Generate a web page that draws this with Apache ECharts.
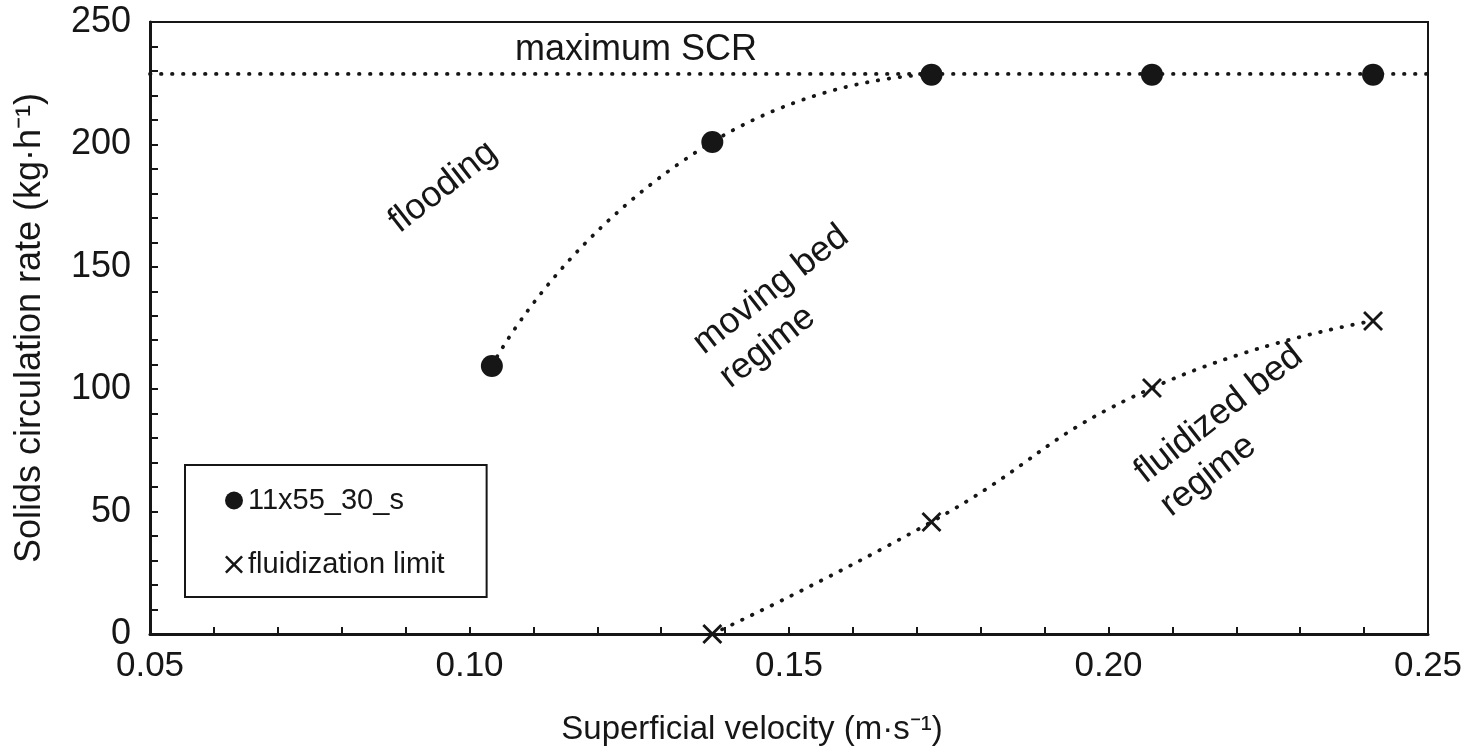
<!DOCTYPE html>
<html>
<head>
<meta charset="utf-8">
<script src="https://cdn.jsdelivr.net/npm/echarts@6/dist/echarts.min.js"></script>
<style>
    html, body { margin: 0; padding: 0; background: #fff; }
    #chart { width: 1468px; height: 754px; }
</style>
</head>
<body>
<div id="chart"></div>
<script>
// data
var scrVelocity = [0.1035, 0.138, 0.1723, 0.2068, 0.2414];
var scrRate = [109.5, 201, 228.5, 228.5, 228.5];
var fluidVelocity = [0.138, 0.1723, 0.2068, 0.2414];
var fluidRate = [0, 45.8, 100.5, 127.9];
var maxScrVelocity = [0.05, 0.25];
var maxScrRate = [228.8, 228.8];
var xTicks = [0.05, 0.10, 0.15, 0.20, 0.25];
var yTicks = [0, 50, 100, 150, 200, 250];

var FONT = '"Liberation Sans", Arial, Helvetica, sans-serif';
var INK = '#161616';
// X made of a filled polygon so it also shows in the legend
var CROSS = 'path://M1,0L5,4L9,0L10,1L6,5L10,9L9,10L5,6L1,10L0,9L4,5L0,1Z';

function pairs(xs, ys) {
    var out = [];
    for (var i = 0; i < xs.length; i++) {
        out.push([xs[i], ys[i]]);
    }
    return out;
}

var dotted = {
    color: INK,
    width: 3.8,
    type: [0.5, 10.5],
    cap: 'round'
};

var chart = echarts.init(document.getElementById('chart'));
var option = {
    backgroundColor: '#fff',
    animation: false,
    grid: {
        left: 150,
        right: 40,
        top: 22,
        bottom: 120,
        show: true,
        borderColor: INK,
        borderWidth: 2,
        backgroundColor: 'transparent'
    },
    legend: {
        left: 185,
        top: 465,
        orient: 'vertical',
        itemWidth: 18,
        itemHeight: 18,
        itemGap: 35,
        padding: [21, 42, 18, 40],
        borderColor: INK,
        borderWidth: 2,
        textStyle: { fontFamily: FONT, fontSize: 29, color: INK },
        data: [
            { name: '11x55_30_s', icon: 'circle' },
            { name: 'fluidization limit', icon: CROSS }
        ]
    },
    xAxis: {
        type: 'value',
        min: xTicks[0],
        max: xTicks[xTicks.length - 1],
        interval: 0.05,
        name: 'Superficial velocity (m·s⁻¹)',
        nameLocation: 'middle',
        nameGap: 79,
        nameTextStyle: { fontFamily: FONT, fontSize: 33, color: INK, padding: [0, 74, 0, 0] },
        axisLine: { lineStyle: { color: INK, width: 3 } },
        axisTick: { inside: true, length: 7, lineStyle: { color: INK, width: 2 } },
        minorTick: { show: true, splitNumber: 5, length: 7, lineStyle: { color: INK, width: 2 } },
        splitLine: { show: false },
        axisLabel: {
            margin: 15,
            fontFamily: FONT,
            fontSize: 35,
            color: INK,
            formatter: function (v) { return v.toFixed(2); }
        }
    },
    yAxis: {
        type: 'value',
        min: yTicks[0],
        max: yTicks[yTicks.length - 1],
        interval: 50,
        name: 'Solids circulation rate (kg·h⁻¹)',
        nameLocation: 'middle',
        nameRotate: 90,
        nameGap: 102,
        nameTextStyle: { fontFamily: FONT, fontSize: 36, color: INK },
        axisLine: { lineStyle: { color: INK, width: 3 } },
        axisTick: { inside: true, length: 8, lineStyle: { color: INK, width: 2 } },
        minorTick: { show: true, splitNumber: 5, length: 8, lineStyle: { color: INK, width: 2 } },
        splitLine: { show: false },
        axisLabel: { margin: 19, fontFamily: FONT, fontSize: 36, color: INK }
    },
    series: [{
            name: 'maximum SCR',
            type: 'line',
            data: pairs(maxScrVelocity, maxScrRate),
            symbol: 'none',
            lineStyle: dotted,
            z: 1
        },
        {
            name: 'flooding curve',
            type: 'line',
            data: pairs(scrVelocity.slice(0, 3), scrRate.slice(0, 3)),
            smooth: 0.6,
            symbol: 'none',
            lineStyle: dotted,
            z: 1
        },
        {
            name: '11x55_30_s',
            type: 'scatter',
            data: pairs(scrVelocity, scrRate),
            symbol: 'circle',
            symbolSize: 22,
            itemStyle: { color: INK, opacity: 1 },
            z: 3
        },
        {
            name: 'fluidization limit',
            type: 'line',
            data: pairs(fluidVelocity, fluidRate),
            smooth: 0.5,
            symbol: CROSS,
            symbolSize: 20,
            showAllSymbol: true,
            itemStyle: { color: INK, opacity: 1 },
            lineStyle: dotted,
            z: 3
        }
    ],
    graphic: [{
            type: 'text',
            x: 636,
            y: 50,
            style: {
                text: 'maximum SCR',
                font: '36px ' + FONT,
                fill: INK,
                textAlign: 'center',
                textVerticalAlign: 'middle'
            }
        },
        {
            type: 'text',
            x: 443,
            y: 187,
            rotation: 38 * Math.PI / 180,
            style: {
                text: 'flooding',
                font: '36px ' + FONT,
                fill: INK,
                textAlign: 'center',
                textVerticalAlign: 'middle'
            }
        },
        {
            type: 'text',
            x: 711,
            y: 364,
            rotation: 38 * Math.PI / 180,
            style: {
                text: 'moving bed\nregime',
                font: '36px ' + FONT,
                lineHeight: 43,
                fill: INK,
                textAlign: 'left',
                textVerticalAlign: 'middle'
            }
        },
        {
            type: 'text',
            x: 1152,
            y: 493,
            rotation: 38 * Math.PI / 180,
            style: {
                text: 'fluidized bed\nregime',
                font: '36px ' + FONT,
                lineHeight: 42,
                fill: INK,
                textAlign: 'left',
                textVerticalAlign: 'middle'
            }
        }
    ]
};
chart.setOption(option);
</script>
</body>
</html>
